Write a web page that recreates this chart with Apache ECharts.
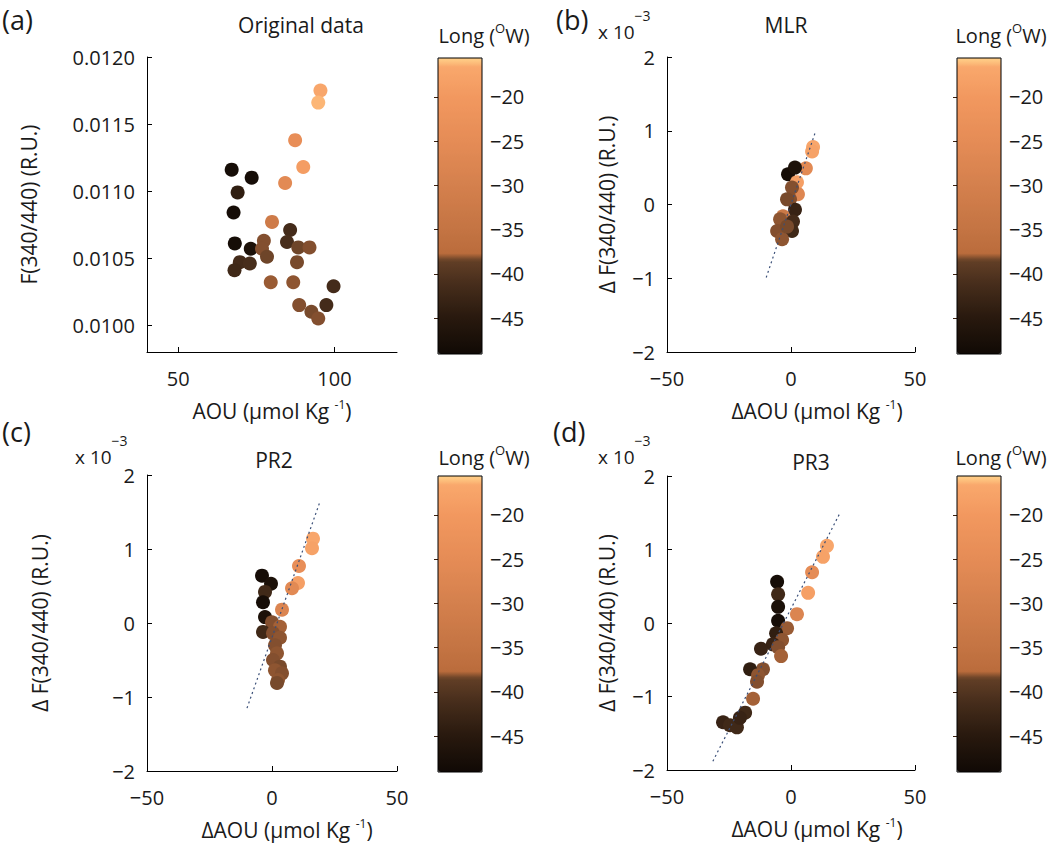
<!DOCTYPE html>
<html><head><meta charset="utf-8">
<script src="https://cdn.jsdelivr.net/npm/echarts@6/dist/echarts.min.js"></script>
<style>html,body{margin:0;padding:0;background:#fff}#c{width:1059px;height:846px}</style>
</head><body><div id="c"></div>
<script>
// ---------------- data ----------------
// (a) Original data: AOU (umol/kg), F(340/440) (R.U.), longitude
const aX = [95.5,94.8,87.4,90.0,84.2,67.1,73.5,69.0,67.7,80.0,85.8,84.8,77.4,68.1,73.2,76.8,88.4,92.0,78.4,69.7,72.9,68.0,88.0,79.6,86.8,99.7,88.7,92.6,94.8,97.4];
const aY = [0.01175,0.01166,0.01138,0.01118,0.01106,0.01116,0.01110,0.01099,0.01084,0.01077,0.01071,0.01062,0.01063,0.01061,0.01057,0.01057,0.01058,0.01058,0.01051,0.01047,0.01046,0.01041,0.01047,0.01032,0.01032,0.01029,0.01015,0.01010,0.01005,0.01015];
const aLong = [-17,-16.3,-24,-19,-26,-48,-48,-44,-48,-32,-41.5,-41,-38.2,-48,-47,-38.2,-38.4,-38.2,-38.4,-41.5,-41,-42,-38.3,-38.0,-38.1,-41.5,-38.2,-38.3,-38.2,-41.5];
// (b) MLR: dAOU, dF (x 1e-3), longitude
const bX = [8.9,8.5,6.0,-1.2,1.6,2.4,2.8,0.4,-0.4,1.6,-3.2,-4.4,0.8,0.4,-5.6,-3.6,-1.6,-1.6];
const bY = [0.78,0.72,0.49,0.41,0.50,0.30,0.14,0.23,0.07,-0.07,-0.16,-0.20,-0.23,-0.36,-0.36,-0.47,0.07,-0.30];
const bLong = [-17,-18,-26,-48,-47,-18.5,-27,-38.2,-38.2,-43,-33,-38.1,-41.5,-42,-38.2,-38.1,-38.3,-38.3];
const bFit = [[-10,-0.99],[9.7,0.97]];
// (c) PR2
const cX = [16.4,16.0,10.8,10.4,8.0,4.0,-4.0,-0.4,-2.8,-3.6,-2.8,0.0,3.2,-3.6,0.4,3.2,1.2,2.0,0.4,3.2,1.2,4.0,2.4,2.0];
const cY = [1.14,1.01,0.77,0.54,0.47,0.18,0.64,0.53,0.42,0.28,0.08,0.01,-0.05,-0.12,-0.14,-0.20,-0.30,-0.41,-0.50,-0.59,-0.64,-0.68,-0.77,-0.81];
const cLong = [-17,-18,-24,-18.5,-26,-28,-48,-47,-42,-48,-47,-38.2,-37.9,-42,-38.2,-38.1,-38.2,-38.1,-38.2,-38.3,-38.1,-38.2,-38.1,-38.3];
const cFit = [[-10,-1.15],[19.2,1.64]];
// (d) PR3
const dX = [14.5,12.9,8.5,6.9,2.4,-5.6,-5.2,-5.2,-5.2,-1.6,-6.0,-3.6,-7.3,-5.2,-4.0,-12.1,-11.3,-16.5,-13.3,-13.7,-15.3,-18.5,-27.4,-24.6,-21.8,-20.6];
const dY = [1.05,0.90,0.69,0.41,0.12,0.56,0.39,0.22,0.03,-0.07,-0.14,-0.23,-0.29,-0.33,-0.45,-0.35,-0.63,-0.63,-0.71,-0.80,-1.03,-1.22,-1.35,-1.39,-1.42,-1.29];
const dLong = [-17,-18,-25,-18.5,-28,-48,-42,-47,-48,-38.0,-44,-38.1,-43,-38.2,-37.9,-43,-38.2,-44,-38.1,-38.2,-37.9,-42,-43,-42,-42,-43];
const dFit = [[-31.5,-1.88],[19.8,1.5]];
// ticks
const aXTicks = [50, 100];
const aYTicks = [0.0100, 0.0105, 0.0110, 0.0115, 0.0120];
const dXTicks = [-50, 0, 50];
const dYTicks = [-2, -1, 0, 1, 2];
const cbTicks = [-45, -40, -35, -30, -25, -20];
const longMin = -49.07, longMax = -15.59;

// ---------------- styling ----------------
const FONT = '"Open Sans", "Noto Sans", sans-serif';
const TXT = '#1a1a1a';
const minus = v => String(v).replace('-', '\u2212');

// colormap anchors (copper-like, as printed)
const anchors = [
  [-49.07,[16,9,5]],[-45,[40,25,14]],[-41,[72,46,28]],[-38.5,[98,63,38]],
  [-37.7,[186,108,60]],[-35,[196,116,67]],[-30,[212,128,77]],[-25,[229,140,86]],
  [-20,[242,152,95]],[-16.6,[249,168,108]],[-16.0,[254,196,128]],[-15.59,[255,206,136]]
];
function cmapAt(v){
  for (let i=0;i<anchors.length-1;i++){
    const [v0,c0]=anchors[i],[v1,c1]=anchors[i+1];
    if (v<=v1){const t=Math.max(0,(v-v0)/(v1-v0));
      return 'rgb('+c0.map((c,k)=>Math.round(c+(c1[k]-c)*t)).join(',')+')';}
  }
  return 'rgb(255,206,136)';
}
const NST = 201;
const cmap = Array.from({length:NST},(_,i)=>cmapAt(longMin+(longMax-longMin)*i/(NST-1)));

const panels = [
  {x:aX,y:aY,l:aLong,fit:null,grid:{left:147,top:57,width:250,height:295},
   xMin:40,xMax:120,xTicks:aXTicks,yMin:0.0098,yMax:0.0120,yTicks:aYTicks,yFmt:v=>v.toFixed(4),
   xName:'{n|AOU (μmol Kg }{s|-1}{n|)}',yName:'F(340/440) (R.U.)',yGap:108,xPad:0,
   cb:{left:438,top:58}},
  {x:bX,y:bY,l:bLong,fit:bFit,grid:{left:667,top:57,width:248,height:295},
   xMin:-50,xMax:50,xTicks:dXTicks,yMin:-2,yMax:2,yTicks:dYTicks,yFmt:v=>minus(v),
   xName:'{n|ΔAOU (μmol Kg }{s|-1}{n|)}',yName:'Δ F(340/440) (R.U.)',yGap:50,xPad:52,
   cb:{left:957,top:58}},
  {x:cX,y:cY,l:cLong,fit:cFit,grid:{left:147,top:475,width:250,height:296},
   xMin:-50,xMax:50,xTicks:dXTicks,yMin:-2,yMax:2,yTicks:dYTicks,yFmt:v=>minus(v),
   xName:'{n|ΔAOU (μmol Kg }{s|-1}{n|)}',yName:'Δ F(340/440) (R.U.)',yGap:97,xPad:30,
   cb:{left:438,top:476}},
  {x:dX,y:dY,l:dLong,fit:dFit,grid:{left:667,top:476,width:248,height:294},
   xMin:-50,xMax:50,xTicks:dXTicks,yMin:-2,yMax:2,yTicks:dYTicks,yFmt:v=>minus(v),
   xName:'{n|ΔAOU (μmol Kg }{s|-1}{n|)}',yName:'Δ F(340/440) (R.U.)',yGap:50,xPad:52,
   cb:{left:957,top:476}}
];
const CBW = 44, CBH = 296;

const grid=[], xAxis=[], yAxis=[], series=[], visualMap=[];
const axisLine = {show:true,onZero:false,lineStyle:{color:'#000',width:1}};
const tickStyle = {show:true,inside:true,length:5,lineStyle:{color:'#000',width:1}};
const lblStyle = {color:TXT,fontFamily:FONT,fontSize:20};

panels.forEach((p,i)=>{
  grid.push(Object.assign({containLabel:false,outerBoundsMode:'none'},p.grid));
  xAxis.push({type:'value',gridIndex:i,min:p.xMin,max:p.xMax,
    axisLine,splitLine:{show:false},
    axisTick:Object.assign({customValues:p.xTicks},tickStyle),
    axisLabel:Object.assign({customValues:p.xTicks,margin:16,formatter:v=>minus(v)},lblStyle),
    name:p.xName,nameLocation:'middle',nameGap:46,
    nameTextStyle:{color:TXT,fontFamily:FONT,padding:[0,0,0,p.xPad],
      rich:{n:{fontSize:21,fontFamily:FONT,color:TXT,lineHeight:26},
            s:{fontSize:12,fontFamily:FONT,color:TXT,lineHeight:12,verticalAlign:'top'}}}});
  yAxis.push({type:'value',gridIndex:i,min:p.yMin,max:p.yMax,
    axisLine,splitLine:{show:false},
    axisTick:Object.assign({customValues:p.yTicks},tickStyle),
    axisLabel:Object.assign({customValues:p.yTicks,margin:12,formatter:p.yFmt},lblStyle),
    name:p.yName,nameLocation:'middle',nameGap:p.yGap,nameRotate:90,
    nameTextStyle:{color:TXT,fontFamily:FONT,fontSize:21}});
  series.push({type:'scatter',xAxisIndex:i,yAxisIndex:i,symbolSize:14,
    data:p.x.map((x,k)=>[x,p.y[k],p.l[k]]),itemStyle:{opacity:1},z:3});
});
panels.forEach((p,i)=>{
  if(p.fit) series.push({type:'line',xAxisIndex:i,yAxisIndex:i,data:p.fit,symbol:'none',
    lineStyle:{color:'#3a4f78',width:1.2,type:[2,3]},z:4,silent:true});
});
// colorbars
panels.forEach((p,i)=>{
  const gi = 4+i;
  grid.push({left:p.cb.left,top:p.cb.top,width:CBW,height:CBH,show:true,borderColor:'#000',borderWidth:1,
    backgroundColor:'transparent',containLabel:false,outerBoundsMode:'none',z:5});
  xAxis.push({type:'value',gridIndex:gi,min:0,max:1,show:false});
  yAxis.push({type:'value',gridIndex:gi,min:longMin,max:longMax,position:'right',
    axisLine:{show:false},splitLine:{show:false},
    axisTick:{show:true,inside:true,length:4,customValues:cbTicks,lineStyle:{color:'#3a2010',width:1}},
    axisLabel:Object.assign({customValues:cbTicks,margin:8,formatter:v=>minus(v)},lblStyle)});
  yAxis.push({type:'value',gridIndex:gi,min:longMin,max:longMax,position:'left',
    axisLine:{show:false},splitLine:{show:false},axisLabel:{show:false},
    axisTick:{show:true,inside:true,length:4,customValues:cbTicks,lineStyle:{color:'#3a2010',width:1}}});
  visualMap.push({type:'continuous',seriesIndex:i,dimension:2,min:longMin,max:longMax,
    orient:'vertical',left:p.cb.left,top:p.cb.top,itemWidth:CBW,itemHeight:CBH,
    calculable:false,padding:0,text:null,hoverLink:false,inRange:{color:cmap},
    textStyle:{color:'transparent'}});
});

const supRich = {n:{fontSize:19,fontFamily:FONT,fill:TXT,padding:[14,0,0,0],verticalAlign:'top'},
                 s:{fontSize:14,fontFamily:FONT,fill:TXT,verticalAlign:'top'}};
const cbRich = {n:{fontSize:20,fontFamily:FONT,fill:TXT,lineHeight:24,verticalAlign:'bottom'},
                s:{fontSize:13,fontFamily:FONT,fill:TXT,lineHeight:17,verticalAlign:'top'}};
function txt(x,y,text,size,align,vAlign){
  return {type:'text',x,y,z:10,style:{text,fontFamily:FONT,fontSize:size,fill:TXT,align:align||'left',verticalAlign:vAlign||'top'}};
}
function rtxt(x,y,text,rich,align){
  return {type:'text',x,y,z:10,style:{text,rich,fill:TXT,fontFamily:FONT,align:align||'left',verticalAlign:'top'}};
}
const graphic = [
  txt(2,6,'(a)',27), txt(301,25,'Original data',21,'center','middle'),
  txt(556,6,'(b)',27), rtxt(598,8,'{n|x 10}{s|\u22123}',supRich), txt(786,25,'MLR',21,'center','middle'),
  txt(2,418,'(c)',27), rtxt(75,433,'{n|x 10}{s|\u22123}',supRich), txt(274,460,'PR2',21,'center','middle'),
  txt(553,418,'(d)',27), rtxt(598,433,'{n|x 10}{s|\u22123}',supRich), txt(811,462,'PR3',21,'center','middle'),
];
[[484,21],[1001,21],[484,443],[1001,443]].forEach(([x,y])=>{
  graphic.push(rtxt(x,y,'{n|Long (}{s|O}{n|W)}',cbRich,'center'));
});

const chart = echarts.init(document.getElementById('c'),null,{renderer:'svg'});
chart.setOption({animation:false,backgroundColor:'#fff',grid,xAxis,yAxis,series,visualMap,graphic});
</script></body></html>
